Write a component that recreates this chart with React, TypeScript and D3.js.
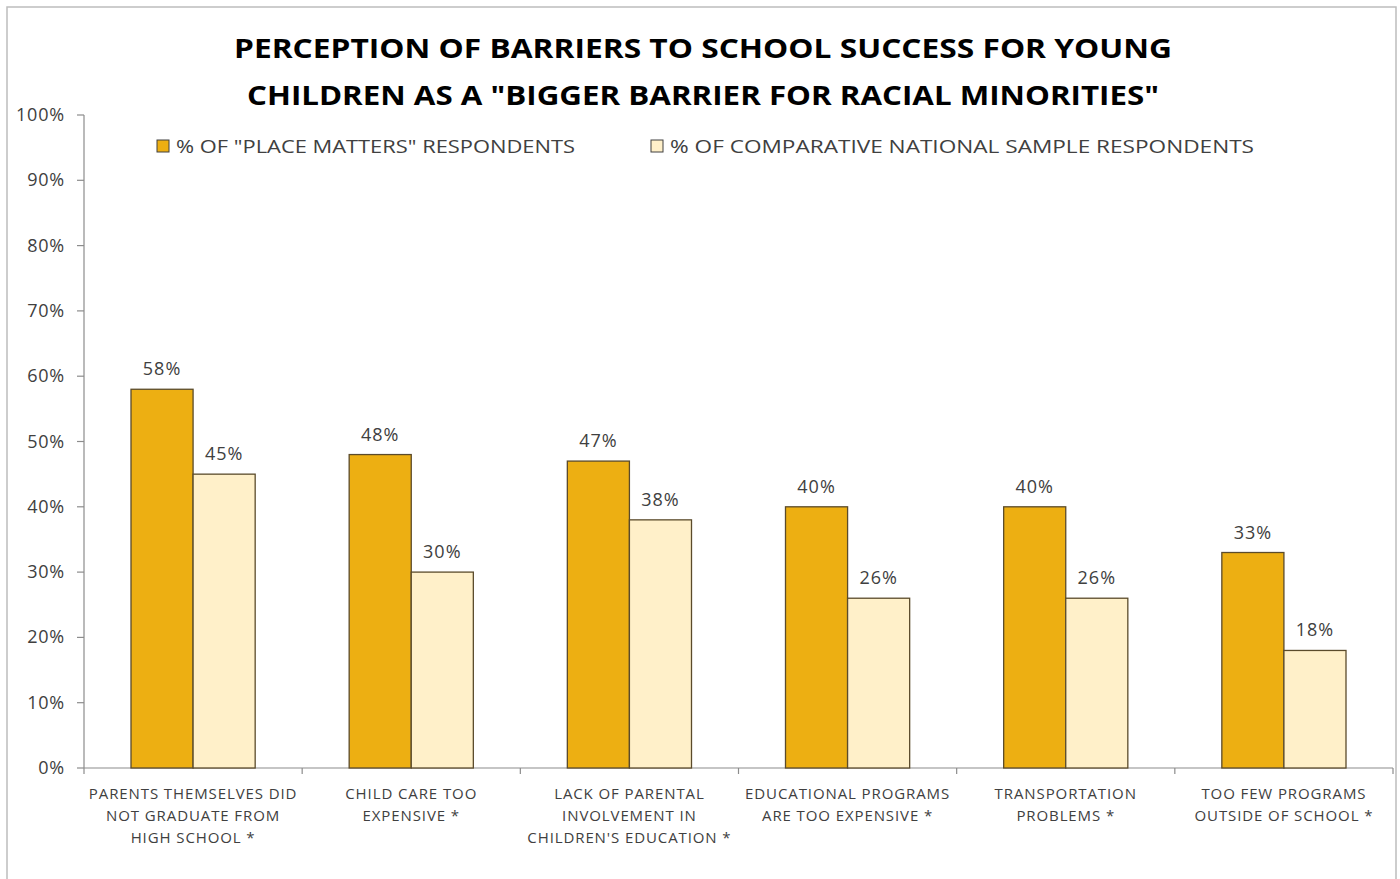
import React from "react";
import * as d3 from "d3";

const categories: string[][] = [
  ["PARENTS THEMSELVES DID", "NOT GRADUATE FROM", "HIGH SCHOOL *"],
  ["CHILD CARE TOO", "EXPENSIVE *"],
  ["LACK OF PARENTAL", "INVOLVEMENT IN", "CHILDREN'S EDUCATION *"],
  ["EDUCATIONAL PROGRAMS", "ARE TOO EXPENSIVE  *"],
  ["TRANSPORTATION", "PROBLEMS *"],
  ["TOO FEW PROGRAMS", "OUTSIDE OF SCHOOL *"],
];
const placeMatters = [58, 48, 47, 40, 40, 33];
const nationalSample = [45, 30, 38, 26, 26, 18];
const seriesNames = ['% OF "PLACE MATTERS" RESPONDENTS', "% OF COMPARATIVE NATIONAL SAMPLE RESPONDENTS"];
const yTicks = [0, 10, 20, 30, 40, 50, 60, 70, 80, 90, 100];
const titleLines = ["PERCEPTION OF BARRIERS TO SCHOOL SUCCESS FOR YOUNG", 'CHILDREN AS A "BIGGER BARRIER FOR RACIAL MINORITIES"'];

const W = 1400, H = 879;
const left = 84, right = 1393, top = 115, bottom = 768;
const colors = ["#EDAF12", "#FFF0C9"];
const FONT = "'Open Sans', 'DejaVu Sans', sans-serif";

export default function App() {
  const x = d3.scaleBand<number>().domain(d3.range(categories.length)).range([left, right]).paddingInner(0).paddingOuter(0);
  const inner = d3.scaleBand<number>().domain([0, 1]).range([47, x.bandwidth() - 47]).padding(0);
  const y = d3.scaleLinear().domain([0, 100]).range([bottom, top]);
  const series = [placeMatters, nationalSample];
  const boundaries = d3.range(categories.length + 1).map((i) => left + i * x.bandwidth());

  return (
    <svg width={W} height={H} style={{ position: "fixed", top: 0, left: 0, background: "#fff" }} fontFamily={FONT}>
      <rect x={7} y={7} width={1389} height={H} fill="#fff" stroke="#bdbdbd" strokeWidth={1.5} />
      {titleLines.map((t, i) => (
        <text key={i} x={703} y={58 + i * 47} textAnchor="middle" fontSize={27} fontWeight="bold" fill="#000"
          textLength={i === 0 ? 938 : 912} lengthAdjust="spacingAndGlyphs">{t}</text>
      ))}
      {/* legend */}
      {seriesNames.map((s, i) => {
        const lx = i === 0 ? 157 : 651;
        return (
          <g key={i}>
            <rect x={lx} y={140} width={12} height={12} fill={colors[i]} stroke="#404040" strokeWidth={1} />
            <text x={lx + 19} y={153} fontSize={18} fill="#404040" textLength={i === 0 ? 399 : 584} lengthAdjust="spacingAndGlyphs">{s}</text>
          </g>
        );
      })}
      {/* y axis */}
      <line x1={left} x2={left} y1={top} y2={bottom} stroke="#8c8c8c" strokeWidth={1.2} />
      {yTicks.map((t) => (
        <g key={t}>
          <line x1={left - 7} x2={left} y1={y(t)} y2={y(t)} stroke="#8c8c8c" strokeWidth={1.2} />
          <text x={65} y={y(t) + 6} textAnchor="end" fontSize={18} letterSpacing={0.8} fill="#404040">{t}%</text>
        </g>
      ))}
      {/* x axis */}
      <line x1={left} x2={right} y1={bottom} y2={bottom} stroke="#8c8c8c" strokeWidth={1.2} />
      {boundaries.map((b, i) => (
        <line key={i} x1={b} x2={b} y1={bottom} y2={bottom + 6} stroke="#8c8c8c" strokeWidth={1.2} />
      ))}
      {/* bars */}
      {categories.map((c, ci) => (
        <g key={ci} transform={`translate(${x(ci)},0)`}>
          {series.map((vals, si) => (
            <g key={si}>
              <rect x={inner(si)} y={y(vals[ci])} width={inner.bandwidth()} height={bottom - y(vals[ci])}
                fill={colors[si]} stroke="#5b4b2b" strokeWidth={1.3} />
              <text x={(inner(si) as number) + inner.bandwidth() / 2} y={y(vals[ci]) - 14} textAnchor="middle" fontSize={18} letterSpacing={1} fill="#404040">
                {vals[ci]}%
              </text>
            </g>
          ))}
          {c.map((line, li) => (
            <text key={li} x={x.bandwidth() / 2} y={799 + li * 22} textAnchor="middle" fontSize={15} fill="#404040" letterSpacing={0.9}>
              {line}
            </text>
          ))}
        </g>
      ))}
    </svg>
  );
}
